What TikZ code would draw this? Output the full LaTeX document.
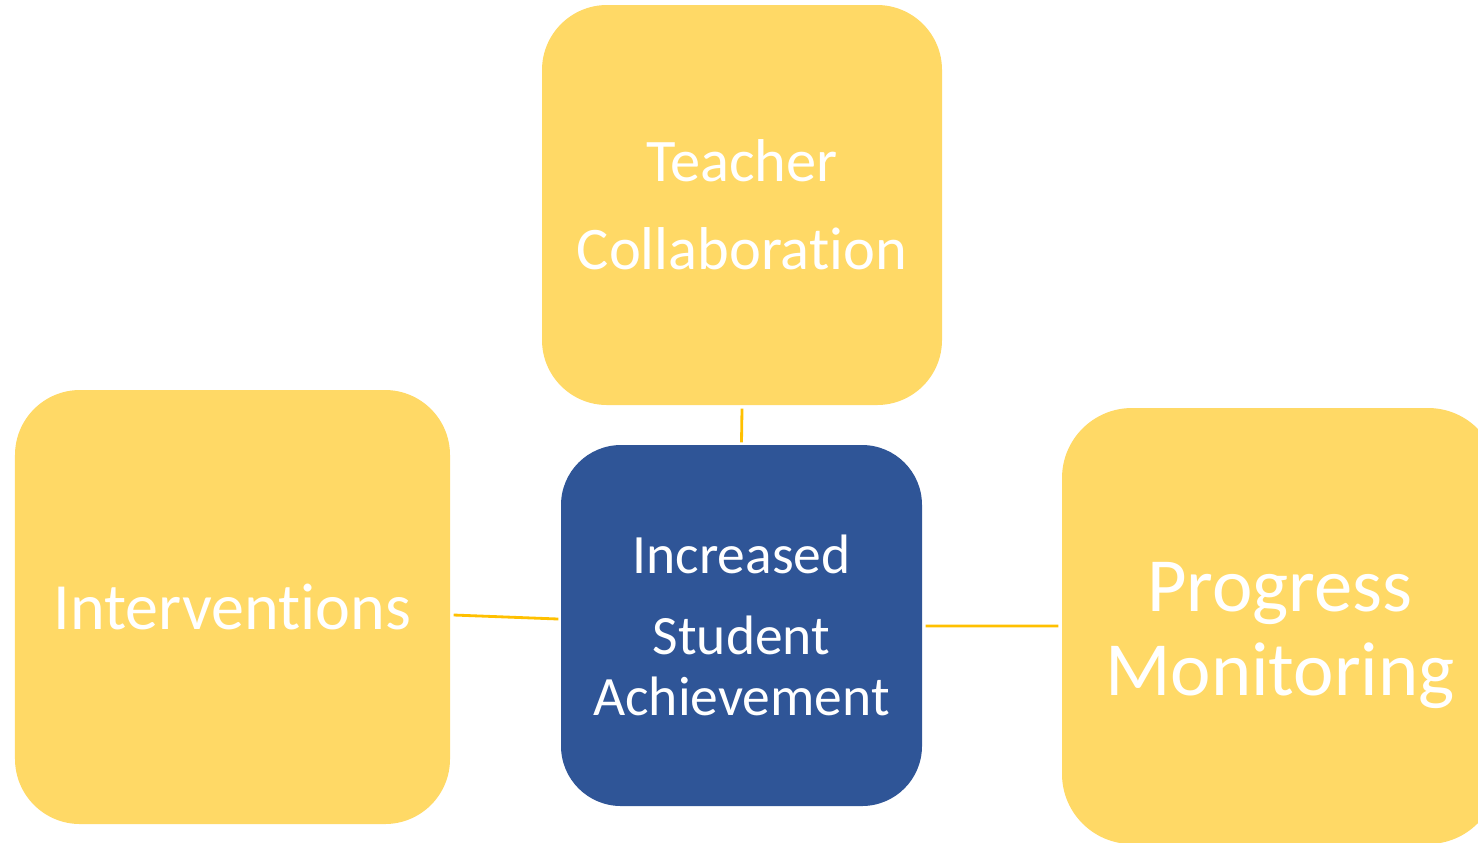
\documentclass[tikz,border=0pt]{standalone}
\usepackage{fontspec}
\setmainfont{Carlito}[Ligatures=NoCommon]
\definecolor{boxyellow}{HTML}{FFD966}
\definecolor{boxblue}{HTML}{2F5597}
\definecolor{linegold}{HTML}{FFC000}
\tikzset{
  ybox/.style={fill=boxyellow, draw=none, rounded corners=0.65cm, inner sep=0pt, text=white, align=center},
  bbox/.style={fill=boxblue, draw=none, rounded corners=0.6cm, inner sep=0pt, text=white, align=center},
  link/.style={draw=linegold, line width=0.8pt}
}
\begin{document}
\begin{tikzpicture}
\useasboundingbox (0,0) rectangle (14.78,-8.42);
\clip (0,0) rectangle (14.78,-8.42);
\node[ybox, minimum width=4.00cm, minimum height=4.00cm, font=\fontsize{17.2}{25}\selectfont] (teacher) at (7.42,-2.05)
  {Teacher\\Collaboration};
\node[ybox, minimum width=4.35cm, minimum height=4.34cm, font=\fontsize{18.8}{22}\selectfont] (inter) at (2.325,-6.07)
  {Interventions};
\node[bbox, minimum width=3.61cm, minimum height=3.61cm, font=\fontsize{15.8}{17.4}\selectfont] (center) at (7.415,-6.255)
  {Increased\\[5.6pt]Student\\Achievement};
\node[ybox, rounded corners=0.7cm, minimum width=4.36cm, minimum height=4.36cm,
  label={[yshift=-0.09cm, text=white, align=center, font=\fontsize{21.8}{23.9}\selectfont]center:Progress\\Monitoring}] (prog) at (12.80,-6.26) {};
\draw[link] ([yshift=-0.03cm]teacher.south) -- ([yshift=0.02cm]center.north);
\draw[link] ([xshift=0.03cm,yshift=-0.08cm]inter.east) -- ([xshift=-0.02cm,yshift=0.065cm]center.west);
\draw[link] ([xshift=0.03cm,yshift=-0.005cm]center.east) -- ([xshift=-0.03cm]prog.west);
\end{tikzpicture}
\end{document}
